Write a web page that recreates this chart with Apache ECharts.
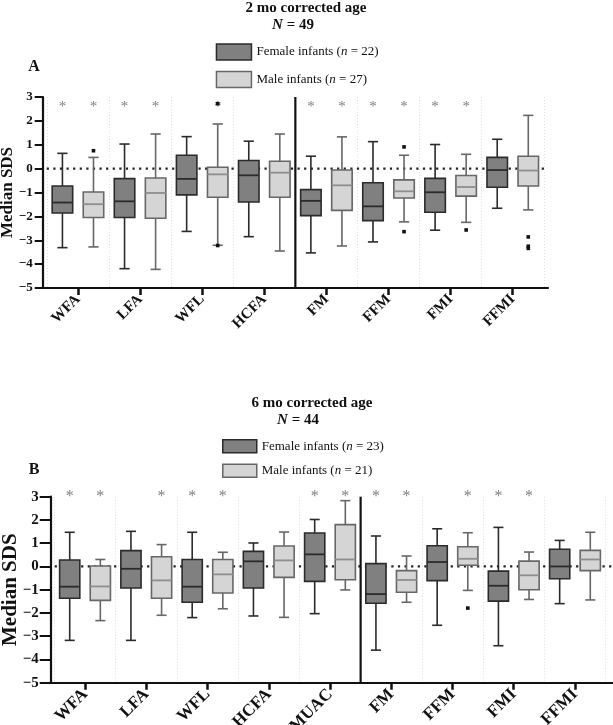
<!DOCTYPE html>
<html><head><meta charset="utf-8">
<script src="https://cdn.jsdelivr.net/npm/echarts@6/dist/echarts.min.js"></script>
<style>html,body{margin:0;padding:0;background:#fff}#c{width:613px;height:725px}</style>
</head><body><div id="c"></div>
<script>
// ---------------- DATA ----------------
// Panel A: 2 mo corrected age (N = 49)
const catsA = ['WFA', 'LFA', 'WFL', 'HCFA', 'FM', 'FFM', 'FMI', 'FFMI'];
// [min, Q1, median, Q3, max]
const femaleA = [
  [-3.31, -1.86, -1.42, -0.73, 0.64],
  [-4.19, -2.05, -1.37, -0.42, 1.03],
  [-2.63, -1.10, -0.43, 0.56, 1.34],
  [-2.85, -1.40, -0.28, 0.34, 1.15],
  [-3.53, -1.97, -1.35, -0.88, 0.52],
  [-3.07, -2.18, -1.58, -0.59, 1.13],
  [-2.58, -1.83, -0.99, -0.41, 1.01],
  [-1.66, -0.78, -0.06, 0.47, 1.23]
];
const maleA = [
  [-3.28, -2.05, -1.49, -0.98, 0.47],
  [-4.22, -2.08, -1.02, -0.39, 1.45],
  [-3.21, -1.20, -0.24, 0.06, 1.87],
  [-3.45, -1.20, -0.17, 0.31, 1.45],
  [-3.24, -1.75, -0.70, -0.06, 1.33],
  [-2.23, -1.23, -0.95, -0.47, 0.56],
  [-2.25, -1.15, -0.77, -0.29, 0.60],
  [-1.73, -0.73, -0.08, 0.52, 2.23]
];
const outliersFemaleA = [];
const outliersMaleA = [['WFA', 0.75], ['WFL', 2.72], ['WFL', -3.22], ['FFM', 0.91], ['FFM', -2.64],
  ['FMI', -2.57], ['FFMI', -2.86], ['FFMI', -3.25], ['FFMI', -3.34]];
const sigFemaleA = [1, 1, 0, 0, 1, 1, 1, 0];
const sigMaleA   = [1, 1, 1, 0, 1, 1, 1, 0];
const starLevelA = 2.7;
const splitBeforeA = 'FM';
const yTicksA = [-5, -4, -3, -2, -1, 0, 1, 2, 3];

// Panel B: 6 mo corrected age (N = 44)
const catsB = ['WFA', 'LFA', 'WFL', 'HCFA', 'MUAC', 'FM', 'FFM', 'FMI', 'FFMI'];
const femaleB = [
  [-3.18, -1.37, -0.87, 0.28, 1.47],
  [-3.18, -0.93, -0.10, 0.68, 1.51],
  [-2.20, -1.54, -0.87, 0.30, 1.47],
  [-2.13, -0.93, 0.22, 0.65, 1.01],
  [-2.03, -0.64, 0.52, 1.44, 2.02],
  [-3.60, -1.58, -1.19, 0.12, 1.31],
  [-2.53, -0.61, 0.19, 0.89, 1.62],
  [-3.41, -1.49, -0.83, -0.20, 1.68],
  [-1.60, -0.53, 0.00, 0.74, 1.12]
];
const maleB = [
  [-2.33, -1.46, -0.86, 0.02, 0.30],
  [-2.10, -1.37, -0.60, 0.42, 0.94],
  [-1.82, -1.14, -0.34, 0.30, 0.61],
  [-2.19, -0.47, 0.26, 0.88, 1.48],
  [-1.01, -0.57, 0.30, 1.80, 2.83],
  [-1.54, -1.11, -0.58, -0.18, 0.45],
  [-1.03, 0.05, 0.33, 0.85, 1.45],
  [-1.42, -1.00, -0.38, 0.23, 0.62],
  [-1.44, -0.18, 0.30, 0.69, 1.47]
];
const outliersFemaleB = [];
const outliersMaleB = [['FFM', -1.79]];
const sigFemaleB = [1, 0, 1, 0, 1, 1, 0, 1, 0];
const sigMaleB   = [1, 1, 1, 0, 1, 1, 1, 1, 0];
const starLevelB = 3.15;
const splitBeforeB = 'FM';
const yTicksB = [-5, -4, -3, -2, -1, 0, 1, 2, 3];

const refValue = 0;
const nameFA = 'Female infants (n = 22)', nameMA = 'Male infants (n = 27)';
const nameFB = 'Female infants (n = 23)', nameMB = 'Male infants (n = 21)';

// ---------------- STYLE ----------------
const FONT = '"Liberation Serif","Times New Roman",serif';
const F_FILL = '#808080', F_LINE = '#2b2b2b', F_MED = '#2b2b2b';
const M_FILL = '#d5d5d5', M_LINE = '#676767', M_MED = '#8e8e8e';
const STAR = '#808080';

function boxRender(side, fill, stroke, medStroke) {
  return function (params, api) {
    const i = api.value(0);
    const band = api.size([1, 0])[0];
    const cx = api.coord([i, 0])[0] + side * band * 0.25;
    const hw = band * 0.165, cw = band * 0.082;
    const Y = k => api.coord([i, api.value(k)])[1];
    const yMin = Y(1), q1 = Y(2), med = Y(3), q3 = Y(4), yMax = Y(5);
    const ls = { stroke: stroke, lineWidth: 1.6, fill: null };
    return { type: 'group', children: [
      { type: 'line', shape: { x1: cx, y1: yMax, x2: cx, y2: q3 }, style: ls },
      { type: 'line', shape: { x1: cx, y1: q1, x2: cx, y2: yMin }, style: ls },
      { type: 'line', shape: { x1: cx - cw, y1: yMax, x2: cx + cw, y2: yMax }, style: ls },
      { type: 'line', shape: { x1: cx - cw, y1: yMin, x2: cx + cw, y2: yMin }, style: ls },
      { type: 'rect', shape: { x: cx - hw, y: q3, width: 2 * hw, height: q1 - q3 },
        style: { fill: fill, stroke: stroke, lineWidth: 1.6 } },
      { type: 'line', shape: { x1: cx - hw, y1: med, x2: cx + hw, y2: med },
        style: { stroke: medStroke, lineWidth: 1.8 } }
    ]};
  };
}
function starRender(side, size) {
  return function (params, api) {
    const i = api.value(0);
    const band = api.size([1, 0])[0];
    const p = api.coord([i, api.value(1)]);
    return { type: 'text', x: p[0] + side * band * 0.25, y: p[1] + size * 0.22,
      style: { text: '*', fill: STAR, font: size + 'px ' + FONT,
        align: 'center', verticalAlign: 'middle', textAlign: 'center', textVerticalAlign: 'middle' } };
  };
}
function outlierRender(side) {
  return function (params, api) {
    const i = api.value(0);
    const band = api.size([1, 0])[0];
    const p = api.coord([i, api.value(1)]);
    const s = 3.6;
    return { type: 'rect', shape: { x: p[0] + side * band * 0.25 - s / 2, y: p[1] - s / 2, width: s, height: s },
      style: { fill: '#111' } };
  };
}
function dividerRender(params, api) {
  const i = api.value(0);
  const band = api.size([1, 0])[0];
  const x = api.coord([i, 0])[0] - band / 2;
  const cs = params.coordSys;
  return { type: 'line', shape: { x1: x, y1: cs.y, x2: x, y2: cs.y + cs.height },
    style: { stroke: '#111', lineWidth: 2.2 } };
}
function refRender(params, api) {
  const y = api.coord([0, api.value(1)])[1];
  const cs = params.coordSys;
  return { type: 'line', shape: { x1: cs.x + 4, y1: y, x2: cs.x + cs.width, y2: y },
    style: { stroke: '#222', lineWidth: 2.2, lineDash: [2.2, 4.4] } };
}

const GEOM = {
  A: { mainLeft: 42.7, mainWidth: 505.3, boxLeft: 46.9, boxWidth: 496.9, top: 97, height: 191,
       yLab: 13, tick: 8, margin: 10, xLab: 15, name: 17, nameGap: 27, star: 15 },
  B: { mainLeft: 50.7, mainWidth: 562.3, boxLeft: 54.4, boxWidth: 551.2, top: 496.7, height: 186,
       yLab: 15, tick: 11, margin: 12, xLab: 17, name: 21, nameGap: 30, star: 16 }
};

const grid = [], xAxis = [], yAxis = [], series = [];
function buildPanel(key, gi, cats, fem, mal, oF, oM, sF, sM, starLevel, splitBefore, yTicks, nF, nM) {
  const g = GEOM[key];
  const mainIdx = gi, boxIdx = gi + 1;
  grid.push({ left: g.mainLeft, top: g.top, width: g.mainWidth, height: g.height, outerBoundsMode: 'none', containLabel: false });
  grid.push({ left: g.boxLeft, top: g.top, width: g.boxWidth, height: g.height, outerBoundsMode: 'none', containLabel: false });
  xAxis.push({ gridIndex: mainIdx, type: 'value', min: 0, max: 1,
    axisLine: { show: true, onZero: false, lineStyle: { color: '#111', width: 2.2 } },
    axisTick: { show: false }, axisLabel: { show: false }, splitLine: { show: false } });
  xAxis.push({ gridIndex: boxIdx, type: 'category', data: cats, boundaryGap: true, position: 'bottom',
    axisLine: { show: false, onZero: false },
    axisTick: { show: true, alignWithLabel: true, length: 7, lineStyle: { color: '#111', width: 2.5 } },
    axisLabel: { interval: 0, rotate: 45, margin: 9, color: '#111', fontFamily: FONT, fontWeight: 'bold', fontSize: g.xLab },
    splitLine: { show: true, interval: 0, lineStyle: { color: '#dedede', type: [1, 2], width: 1 } } });
  yAxis.push({ gridIndex: mainIdx, type: 'value', min: yTicks[0], max: yTicks[yTicks.length - 1],
    interval: yTicks[1] - yTicks[0],
    name: 'Median SDS', nameLocation: 'middle', nameGap: g.nameGap, nameRotate: 90, nameMoveOverlap: false,
    nameTextStyle: { fontFamily: FONT, fontWeight: 'bold', fontSize: g.name, color: '#111' },
    axisLine: { show: true, onZero: false, lineStyle: { color: '#111', width: 2.2 } },
    axisTick: { show: true, inside: false, length: g.tick, lineStyle: { color: '#111', width: 2 } },
    axisLabel: { margin: g.margin, color: '#111', fontFamily: FONT, fontWeight: 'bold', fontSize: g.yLab,
      formatter: v => (v < 0 ? '\u2212' + Math.abs(v) : String(v)) },
    splitLine: { show: false } });
  yAxis.push({ gridIndex: boxIdx, type: 'value', min: yTicks[0], max: yTicks[yTicks.length - 1], show: false,
    axisLine: { onZero: false } });

  const mk = arr => arr.map((d, i) => [i].concat(d));
  series.push({ type: 'custom', name: nF, xAxisIndex: boxIdx, yAxisIndex: boxIdx,
    renderItem: boxRender(-1, F_FILL, F_LINE, F_MED), encode: { x: 0, y: [1, 2, 3, 4, 5] },
    itemStyle: { color: F_FILL, borderColor: F_LINE }, data: mk(fem), z: 3 });
  series.push({ type: 'custom', name: nM, xAxisIndex: boxIdx, yAxisIndex: boxIdx,
    renderItem: boxRender(1, M_FILL, M_LINE, M_MED), encode: { x: 0, y: [1, 2, 3, 4, 5] },
    itemStyle: { color: M_FILL, borderColor: M_LINE }, data: mk(mal), z: 3 });
  const starData = flags => flags.map((f, i) => f ? [i, starLevel] : null).filter(Boolean);
  series.push({ type: 'custom', xAxisIndex: boxIdx, yAxisIndex: boxIdx, clip: false,
    renderItem: starRender(-1, g.star), encode: { x: 0, y: 1 }, data: starData(sF), z: 4 });
  series.push({ type: 'custom', xAxisIndex: boxIdx, yAxisIndex: boxIdx, clip: false,
    renderItem: starRender(1, g.star), encode: { x: 0, y: 1 }, data: starData(sM), z: 4 });
  const od = arr => arr.map(o => [cats.indexOf(o[0]), o[1]]);
  series.push({ type: 'custom', xAxisIndex: boxIdx, yAxisIndex: boxIdx, clip: false,
    renderItem: outlierRender(-1), encode: { x: 0, y: 1 }, data: od(oF), z: 5 });
  series.push({ type: 'custom', xAxisIndex: boxIdx, yAxisIndex: boxIdx, clip: false,
    renderItem: outlierRender(1), encode: { x: 0, y: 1 }, data: od(oM), z: 5 });
  series.push({ type: 'custom', xAxisIndex: boxIdx, yAxisIndex: boxIdx,
    renderItem: dividerRender, encode: { x: 0 }, data: [[cats.indexOf(splitBefore)]], z: 6 });
  series.push({ type: 'custom', xAxisIndex: mainIdx, yAxisIndex: mainIdx,
    renderItem: refRender, encode: { x: 0, y: 1 }, data: [[0, refValue]], z: 2 });
}
buildPanel('A', 0, catsA, femaleA, maleA, outliersFemaleA, outliersMaleA, sigFemaleA, sigMaleA, starLevelA, splitBeforeA, yTicksA, nameFA, nameMA);
buildPanel('B', 2, catsB, femaleB, maleB, outliersFemaleB, outliersMaleB, sigFemaleB, sigMaleB, starLevelB, splitBeforeB, yTicksB, nameFB, nameMB);

function legendCfg(left, top, w, h, gap, nF, nM) {
  return { orient: 'vertical', left: left, top: top, itemWidth: w, itemHeight: h, itemGap: gap,
    selectedMode: false, padding: 0,
    data: [
      { name: nF, icon: 'rect', itemStyle: { color: F_FILL, borderColor: F_LINE, borderWidth: 1.5 } },
      { name: nM, icon: 'rect', itemStyle: { color: M_FILL, borderColor: M_LINE, borderWidth: 1.5 } }
    ],
    formatter: n => n.replace('(n', '({i|n}'),
    textStyle: { fontFamily: FONT, fontSize: 13, color: '#111',
      rich: { i: { fontFamily: FONT, fontSize: 13, fontStyle: 'italic', color: '#111' } } } };
}

function txt(x, y, text, size, extra) {
  return Object.assign({ type: 'text', x: x, y: y, style: Object.assign({
    text: text, fontFamily: FONT, fontSize: size, fontWeight: 'bold', fill: '#111',
    align: 'center', verticalAlign: 'middle', textAlign: 'center', textVerticalAlign: 'middle',
    rich: { i: { fontFamily: FONT, fontSize: size, fontWeight: 'bold', fontStyle: 'italic', fill: '#111' } }
  }, extra || {}) });
}

const chart = echarts.init(document.getElementById('c'), null, { renderer: 'canvas' });
chart.setOption({
  animation: false,
  backgroundColor: '#fff',
  grid: grid, xAxis: xAxis, yAxis: yAxis, series: series,
  legend: [legendCfg(215.7, 43.3, 35, 16, 10, nameFA, nameMA), legendCfg(222, 439, 34, 13, 10, nameFB, nameMB)],
  graphic: [
    txt(306, 8, '2 mo corrected age', 15),
    txt(293, 25, '{i|N} = 49', 15),
    txt(34, 67, 'A', 16),
    txt(312, 403, '6 mo corrected age', 15),
    txt(298, 420, '{i|N} = 44', 15),
    txt(34, 470, 'B', 16)
  ]
});
</script></body></html>
